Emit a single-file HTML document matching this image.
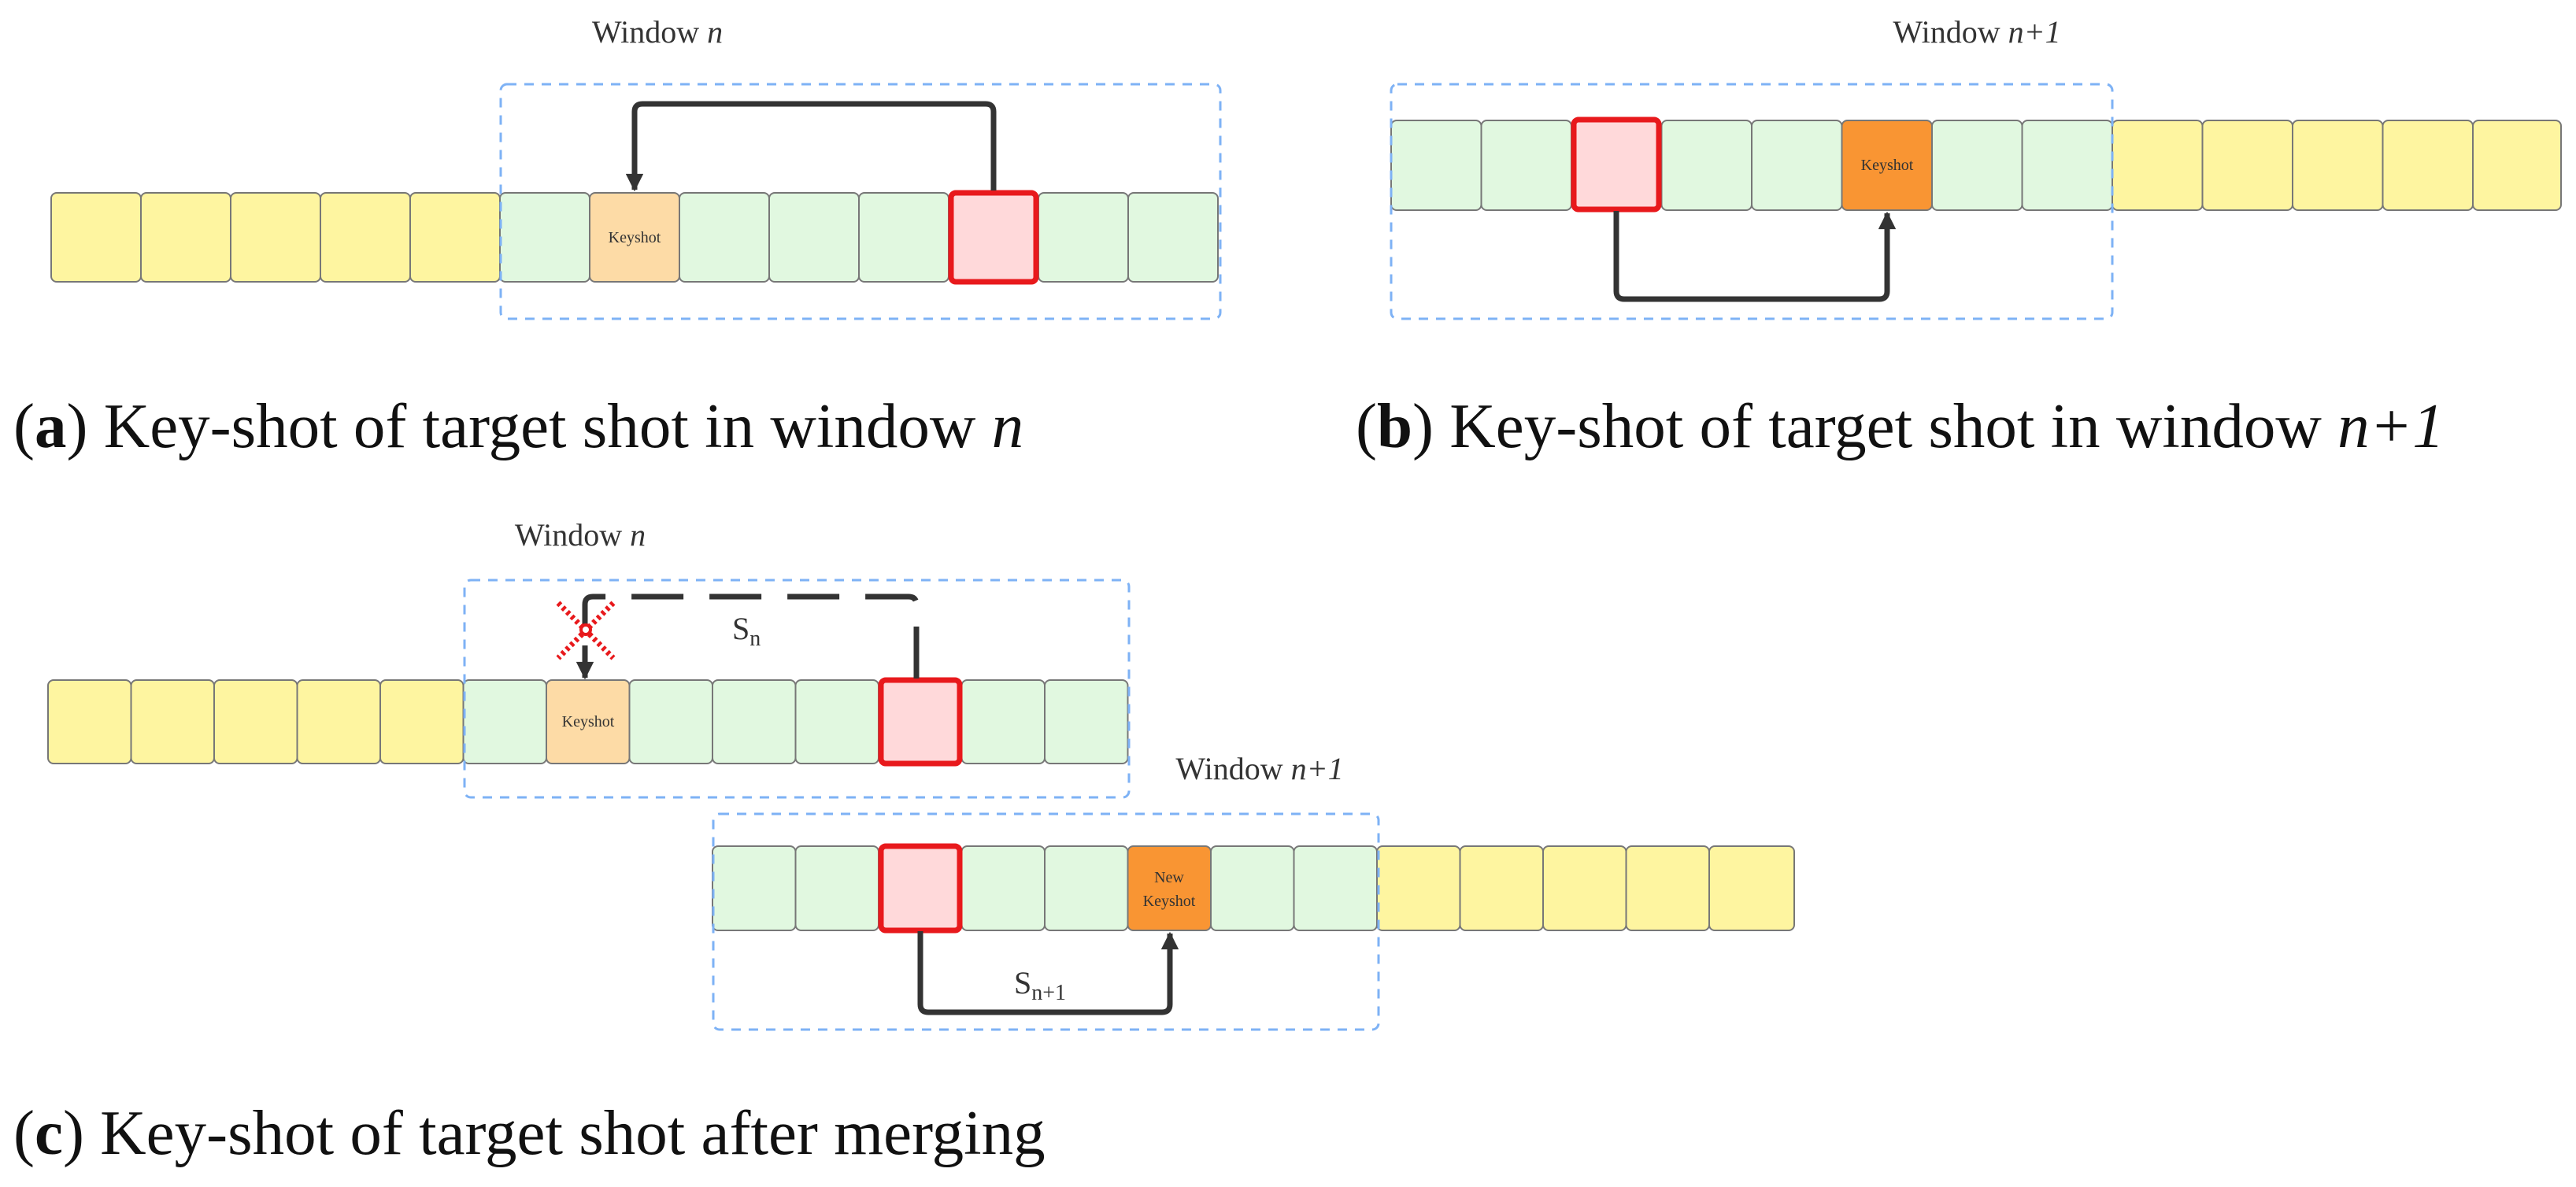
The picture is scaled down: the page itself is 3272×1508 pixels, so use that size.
<!DOCTYPE html>
<html><head><meta charset="utf-8"><style>
html,body{margin:0;padding:0;background:#fff;}
svg{display:block;}
.w{font-family:"Liberation Serif",serif;font-size:40px;fill:#333;}
.cap{font-family:"Liberation Serif",serif;font-size:81px;fill:#111;}
.k{font-family:"Liberation Serif",serif;font-size:20px;fill:#333;text-anchor:middle;}
</style></head><body>
<svg width="3272" height="1508" viewBox="0 0 3272 1508" xmlns="http://www.w3.org/2000/svg">
<defs>
<marker id="ah" viewBox="0 0 10 10" refX="9" refY="5" markerWidth="4.5" markerHeight="3.2" orient="auto" markerUnits="strokeWidth">
<path d="M0,0 L10,5 L0,10 z" fill="#333"/></marker>
</defs>

<!-- (a) -->
<g stroke="#777" stroke-width="2">
<rect x="65" y="245" width="114" height="113" rx="7" fill="#FEF5A0"/>
<rect x="179" y="245" width="114" height="113" rx="7" fill="#FEF5A0"/>
<rect x="293" y="245" width="114" height="113" rx="7" fill="#FEF5A0"/>
<rect x="407" y="245" width="114" height="113" rx="7" fill="#FEF5A0"/>
<rect x="521" y="245" width="114" height="113" rx="7" fill="#FEF5A0"/>
<rect x="635" y="245" width="114" height="113" rx="7" fill="#E1F8E0"/>
<rect x="749" y="245" width="114" height="113" rx="7" fill="#FDDBA6"/>
<rect x="863" y="245" width="114" height="113" rx="7" fill="#E1F8E0"/>
<rect x="977" y="245" width="114" height="113" rx="7" fill="#E1F8E0"/>
<rect x="1091" y="245" width="114" height="113" rx="7" fill="#E1F8E0"/>
<rect x="1319" y="245" width="114" height="113" rx="7" fill="#E1F8E0"/>
<rect x="1433" y="245" width="114" height="113" rx="7" fill="#E1F8E0"/>
</g>
<rect x="1208" y="245" width="108" height="113" rx="6" fill="#FFD9DA" stroke="#E8191C" stroke-width="7"/>
<text x="806" y="308" class="k">Keyshot</text>
<rect x="636" y="107" width="914" height="298" rx="8" fill="none" stroke="#7EB2F5" stroke-width="3" stroke-dasharray="12,10"/>
<text x="835" y="54" class="w" text-anchor="middle">Window <tspan font-style="italic">n</tspan></text>
<path d="M1262,242 V142 Q1262,132 1252,132 H816 Q806,132 806,142 V241" fill="none" stroke="#333" stroke-width="7" marker-end="url(#ah)"/>
<text x="17" y="568" class="cap">(<tspan font-weight="bold">a</tspan>) Key-shot of target shot in window <tspan font-style="italic">n</tspan></text>

<!-- (b) -->
<g stroke="#777" stroke-width="2">
<rect x="1767" y="153" width="114.5" height="114" rx="7" fill="#E1F8E0"/>
<rect x="1881.5" y="153" width="114.5" height="114" rx="7" fill="#E1F8E0"/>
<rect x="2110.5" y="153" width="114.5" height="114" rx="7" fill="#E1F8E0"/>
<rect x="2225" y="153" width="114.5" height="114" rx="7" fill="#E1F8E0"/>
<rect x="2339.5" y="153" width="114.5" height="114" rx="7" fill="#F99533"/>
<rect x="2454" y="153" width="114.5" height="114" rx="7" fill="#E1F8E0"/>
<rect x="2568.5" y="153" width="114.5" height="114" rx="7" fill="#E1F8E0"/>
<rect x="2683" y="153" width="114.5" height="114" rx="7" fill="#FEF5A0"/>
<rect x="2797.5" y="153" width="114.5" height="114" rx="7" fill="#FEF5A0"/>
<rect x="2912" y="153" width="114.5" height="114" rx="7" fill="#FEF5A0"/>
<rect x="3026.5" y="153" width="114.5" height="114" rx="7" fill="#FEF5A0"/>
<rect x="3141" y="153" width="112" height="114" rx="7" fill="#FEF5A0"/>
</g>
<rect x="1999" y="152" width="108" height="114" rx="6" fill="#FFD9DA" stroke="#E8191C" stroke-width="7"/>
<text x="2397" y="216" class="k">Keyshot</text>
<rect x="1767" y="107" width="916" height="298" rx="8" fill="none" stroke="#7EB2F5" stroke-width="3" stroke-dasharray="12,10"/>
<text x="2511" y="54" class="w" text-anchor="middle">Window <tspan font-style="italic">n+1</tspan></text>
<path d="M2053,268 V370 Q2053,380 2063,380 H2387 Q2397,380 2397,370 V271" fill="none" stroke="#333" stroke-width="7" marker-end="url(#ah)"/>
<text x="1722" y="568" class="cap">(<tspan font-weight="bold">b</tspan>) Key-shot of target shot in window <tspan font-style="italic">n+1</tspan></text>

<!-- (c) row 1 -->
<g stroke="#777" stroke-width="2">
<rect x="61" y="864" width="105.5" height="106" rx="7" fill="#FEF5A0"/>
<rect x="166.5" y="864" width="105.5" height="106" rx="7" fill="#FEF5A0"/>
<rect x="272" y="864" width="105.5" height="106" rx="7" fill="#FEF5A0"/>
<rect x="377.5" y="864" width="105.5" height="106" rx="7" fill="#FEF5A0"/>
<rect x="483" y="864" width="105.5" height="106" rx="7" fill="#FEF5A0"/>
<rect x="588.5" y="864" width="105.5" height="106" rx="7" fill="#E1F8E0"/>
<rect x="694" y="864" width="105.5" height="106" rx="7" fill="#FDDBA6"/>
<rect x="799.5" y="864" width="105.5" height="106" rx="7" fill="#E1F8E0"/>
<rect x="905" y="864" width="105.5" height="106" rx="7" fill="#E1F8E0"/>
<rect x="1010.5" y="864" width="105.5" height="106" rx="7" fill="#E1F8E0"/>
<rect x="1221.5" y="864" width="105.5" height="106" rx="7" fill="#E1F8E0"/>
<rect x="1327" y="864" width="105.5" height="106" rx="7" fill="#E1F8E0"/>
</g>
<rect x="1119" y="864" width="100" height="106" rx="6" fill="#FFD9DA" stroke="#E8191C" stroke-width="7"/>
<text x="747" y="923" class="k" font-size="19">Keyshot</text>
<rect x="590" y="737" width="844" height="276" rx="8" fill="none" stroke="#7EB2F5" stroke-width="3" stroke-dasharray="12,10"/>
<text x="737" y="693" class="w" text-anchor="middle">Window <tspan font-style="italic">n</tspan></text>
<path d="M1164,862 V768 Q1164,758 1154,758 H753 Q743,758 743,768 V861" fill="none" stroke="#333" stroke-width="7" stroke-dasharray="66,33" marker-end="url(#ah)"/>
<path d="M743,820 V840" fill="none" stroke="#333" stroke-width="7"/>
<g stroke="#E8191C" stroke-width="7" stroke-dasharray="4,4" fill="none">
<line x1="709" y1="766" x2="779" y2="836"/>
<line x1="779" y1="766" x2="709" y2="836"/>
</g>
<circle cx="744" cy="800" r="6" fill="#fff" stroke="#E8191C" stroke-width="4"/>
<text x="930" y="812" class="w" font-size="42">S<tspan font-size="28" dy="8">n</tspan></text>

<!-- (c) row 2 -->
<g stroke="#777" stroke-width="2">
<rect x="905" y="1075" width="105.5" height="107" rx="7" fill="#E1F8E0"/>
<rect x="1010.5" y="1075" width="105.5" height="107" rx="7" fill="#E1F8E0"/>
<rect x="1221.5" y="1075" width="105.5" height="107" rx="7" fill="#E1F8E0"/>
<rect x="1327" y="1075" width="105.5" height="107" rx="7" fill="#E1F8E0"/>
<rect x="1432.5" y="1075" width="105.5" height="107" rx="7" fill="#F99533"/>
<rect x="1538" y="1075" width="105.5" height="107" rx="7" fill="#E1F8E0"/>
<rect x="1643.5" y="1075" width="105.5" height="107" rx="7" fill="#E1F8E0"/>
<rect x="1749" y="1075" width="105.5" height="107" rx="7" fill="#FEF5A0"/>
<rect x="1854.5" y="1075" width="105.5" height="107" rx="7" fill="#FEF5A0"/>
<rect x="1960" y="1075" width="105.5" height="107" rx="7" fill="#FEF5A0"/>
<rect x="2065.5" y="1075" width="105.5" height="107" rx="7" fill="#FEF5A0"/>
<rect x="2171" y="1075" width="108" height="107" rx="7" fill="#FEF5A0"/>
</g>
<rect x="1119" y="1075" width="100" height="107" rx="6" fill="#FFD9DA" stroke="#E8191C" stroke-width="7"/>
<text x="1485" y="1121" class="k" font-size="19">New</text>
<text x="1485" y="1151" class="k" font-size="19">Keyshot</text>
<rect x="906" y="1034" width="845" height="274" rx="8" fill="none" stroke="#7EB2F5" stroke-width="3" stroke-dasharray="12,10"/>
<text x="1600" y="990" class="w" text-anchor="middle">Window <tspan font-style="italic">n+1</tspan></text>
<path d="M1169,1183 V1276 Q1169,1286 1179,1286 H1476 Q1486,1286 1486,1276 V1186" fill="none" stroke="#333" stroke-width="7" marker-end="url(#ah)"/>
<text x="1288" y="1262" class="w" font-size="42">S<tspan font-size="28" dy="8">n+1</tspan></text>
<text x="17" y="1466" class="cap">(<tspan font-weight="bold">c</tspan>) Key-shot of target shot after merging</text>
</svg>
</body></html>
